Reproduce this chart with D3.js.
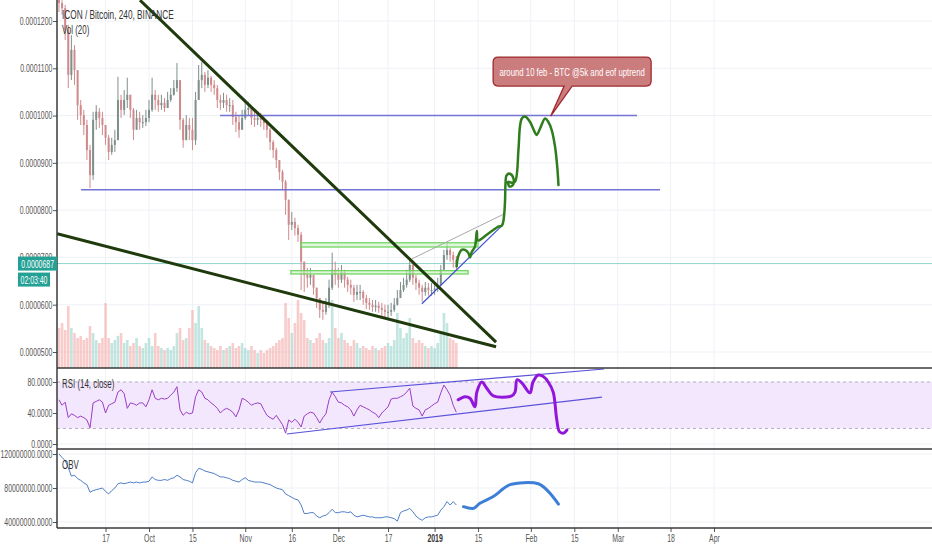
<!DOCTYPE html>
<html>
<head>
<meta charset="utf-8">
<script src="https://cdn.jsdelivr.net/npm/d3@7"></script>
<style>
body { margin: 0; background: #fff; }
svg { font-family: "Liberation Sans", Arial, sans-serif; }
</style>
</head>
<body>
<script>
// one candle per day starting 2018-09-02, prices in 1e-7 BTC
var close = [1238,1227,1181,1086,1139,1096,1022,1001,980,927,
  874,991,1008,995,980,953,923,938,948,1033,
  1012,1033,1044,1012,970,995,986,986,995,1012,
  1044,1033,1022,1027,1016,1033,1044,1058,1075,991,
  948,980,970,948,1033,1075,1086,1065,1080,1065,
  1058,1033,1027,1033,1022,1022,997,986,970,995,
  1012,1016,995,991,995,991,984,970,944,927,
  906,881,860,822,769,775,762,748,691,663,
  657,663,636,614,589,585,600,636,674,663,
  653,669,653,642,636,621,627,627,614,604,
  600,595,598,593,589,585,585,589,600,614,
  631,642,653,684,657,646,636,627,636,631,
  631,634,642,674,705,716,705,695,687];
var high = [1261,1244,1234,1192,1170,1149,1065,1033,1012,991,
  938,1008,1022,1016,1008,980,959,953,970,1082,
  1044,1054,1080,1044,1016,1012,1008,1001,1012,1033,
  1080,1054,1044,1044,1037,1050,1058,1075,1111,1075,
  995,1001,995,995,1050,1107,1113,1092,1096,1084,
  1075,1065,1044,1048,1044,1037,1033,1008,1001,1012,
  1029,1029,1016,1008,1008,1006,1001,991,974,948,
  932,906,885,864,811,796,784,769,754,684,
  678,678,657,636,614,604,614,653,710,691,
  678,684,674,659,653,642,642,642,631,621,
  614,610,610,606,604,600,600,604,614,631,
  648,657,674,695,691,663,653,642,648,646,
  646,648,657,684,716,731,720,712,703];
var low = [1219,1213,1160,1058,1075,1065,991,980,959,906,
  847,864,970,974,959,938,906,917,923,948,
  995,1001,1016,995,948,970,970,974,978,986,
  1008,1012,1008,1012,1008,1016,1029,1042,1050,970,
  932,953,948,927,938,1033,1058,1050,1058,1050,
  1044,1016,1012,1016,1008,1008,980,965,953,974,
  991,999,980,976,980,976,970,953,927,910,
  889,864,843,790,737,758,746,733,631,627,
  636,642,621,593,572,568,579,593,631,642,
  636,646,636,627,621,606,610,610,600,591,
  589,585,585,583,576,572,572,576,585,598,
  614,627,636,648,642,631,621,606,619,619,
  619,621,627,642,674,695,691,678,674];
var volume = [40,45,38,62,40,35,30,32,28,30,
  42,35,28,25,30,65,30,25,28,32,
  35,25,28,22,25,30,22,20,25,30,
  22,35,22,20,18,20,18,22,35,40,
  28,30,40,58,45,62,40,28,25,22,
  20,18,22,18,20,22,25,20,22,25,
  20,18,22,18,15,18,15,18,20,22,
  25,28,30,65,50,35,45,68,55,48,
  30,28,25,30,35,28,25,30,68,40,
  30,35,28,25,22,28,25,20,22,20,
  18,22,20,18,20,22,25,22,28,55,
  40,30,35,50,30,25,28,25,22,20,
  22,20,25,35,55,45,30,28,25];
var rsi = [57,50,54,34,39,37,34,36,34,31,
  21,53,55,57,54,40,50,52,54,67,
  70,65,46,53,52,50,53,53,48,57,
  70,59,57,59,58,59,63,67,74,44,
  37,41,39,40,61,70,67,59,57,53,
  50,46,40,44,46,44,41,35,44,59,
  57,54,50,52,53,52,44,37,34,32,
  37,31,25,14,31,28,32,28,22,36,
  39,41,40,34,27,34,39,57,67,61,
  54,53,50,48,44,36,44,50,48,46,
  44,41,39,34,40,44,48,58,59,59,
  61,63,67,72,49,46,44,36,44,46,
  49,52,54,66,76,70,63,50,41];
// OBV in millions
var obv = [120,116,112,104,94,95,91,89,86,84,
  75,77,78,79,80,76,73,77,80,85,
  86,85,86,87,86,87,86,87,87,88,
  93,90,89,89,90,89,91,92,95,93,
  90,89,88,86,98,103,102,100,99,98,
  97,95,93,93,92,91,89,88,87,90,
  92,89,88,87,87,87,86,85,84,82,
  80,79,78,73,71,69,67,66,60,50,
  50,51,51,47,45,47,48,51,55,51,
  51,52,52,51,52,48,46,47,48,47,
  46,46,45,45,45,46,46,45,44,41,
  51,53,54,56,52,47,44,42,45,46,
  46,47,48,54,58,64,60,64,60];

var tickDates = ["2018-09-17","2018-10-01","2018-10-15","2018-11-01","2018-11-16","2018-12-01",
  "2018-12-17","2019-01-01","2019-01-15","2019-02-01","2019-02-15","2019-03-01","2019-03-18","2019-04-01"];
var tickLabels = ["17","Oct","15","Nov","16","Dec","17","2019","15","Feb","15","Mar","18","Apr"];
var priceTicks = [500,600,700,800,900,1000,1100,1200];
var rsiTicks = [0,40,80];
var obvTicks = [40,80,120];

// hand drawings, time = days after 2019-01-01
var greenDays = [7.1,7.6,8.7,9.8,10.9,11.4,12.0,13.0,13.6,13.9,
  14.6,16.8,18.9,20.5,21.6,22.1,22.45,22.7,22.85,23.2,
  24.3,25.4,25.2,24.1,23.7,24.8,25.9,27.0,27.5,28.1,
  29.1,30.7,32.4,32.9,34.0,35.6,36.6,37.7,38.8,39.5,39.9];
var greenPrice = [681,702,716,716,709,700,712,723,756,736,
  737,748,758,765,767,775,793,822,857,874,
  877,867,853,850,860,858,860,927,977,994,
  998,987,963,959,973,994,987,970,934,892,853];
var rsiProjDays = [7.6,9.8,11.4,13.0,13.6,15.2,16.8,18.9,24.8,25.9,26.6,28.1,30.7,31.7,33.4,35.0,36.6,38.2,39.3,40.2,41.5,42.6];
var rsiProjVal = [57,61,59,48,67,80,72,62,62,67,83,79,66,80,89,87,80,67,33,16,14,18];
var obvProjDays = [9.3,12.5,14.6,18.9,22.1,24.3,33.4,36.6,39.9];
var obvProjVal = [58,56,62,70,79,84,85,76,61];

var wedgeTop = [[-94.9,1244],[19.8,521]];
var wedgeBottom = [[-121.6,750],[19.8,511]];
var levelPrice = [1000,843];
var levelFrom = [-69.1,-113.9];
var levelTo = [65.2,72.6];
var zoneTop = [731,672];
var zoneBottom = [722,665];
var zoneFrom = [-43.0,-46.3];
var zoneTo = [14.0,10.8];
var grayLine = [[-7.3,697],[22.4,792]];
var supportLine = [[-4.1,602],[22.1,770]];
var rsiLow = [[-47.6,12.9],[53.9,60.6]];
var rsiHigh = [[-33.7,67.1],[54.6,96.8]];
var lastPrice = 687;
var noteText = "around 10 feb - BTC @5k and eof uptrend";
var noteAnchor = [37.4,999];
var noteCenter = [44.3,1093];

var DAY = 864e5;
var start = Date.UTC(2018,8,2);
var base19 = Date.UTC(2019,0,1);
function dayDate(d) { return new Date(base19 + d * DAY); }

var W = 932, H = 550;
var left = 57, mainBottom = 368, rsiBottom = 449, obvBottom = 528;
var svg = d3.select("body").append("svg").attr("width", W).attr("height", H);

var x = d3.scaleUtc()
  .domain([new Date(Date.UTC(2018,9,1)), new Date(Date.UTC(2019,3,1))])
  .range([149, 714]);
var yPrice = d3.scaleLinear().domain([500,1200]).range([352,21]);
var yVol = d3.scaleLinear().domain([0,70]).range([mainBottom,298]);
var yRsi = d3.scaleLinear().domain([0,80]).range([444,382]);
var yObv = d3.scaleLinear().domain([40,120]).range([522,454]);

var candles = close.map(function(c, i) {
  var o = i === 0 ? 1250 : close[i-1];
  return {date: new Date(start + i * DAY), open: o, close: c,
    high: Math.max(high[i], o, c), low: Math.min(low[i], o, c), vol: volume[i], rsi: rsi[i], obv: obv[i]};
});

var defs = svg.append("defs");
function clip(id, y0, y1) {
  defs.append("clipPath").attr("id", id).append("rect")
    .attr("x", left).attr("y", y0).attr("width", W - left).attr("height", y1 - y0);
}
clip("cMain", 0, mainBottom);
clip("cRsi", mainBottom, rsiBottom);
clip("cObv", rsiBottom, obvBottom);

// grid
var grid = svg.append("g").attr("stroke", "#eef1f6").attr("stroke-width", 1);
tickDates.forEach(function(t) {
  var xx = x(new Date(t + "T00:00:00Z"));
  grid.append("line").attr("x1", xx).attr("x2", xx).attr("y1", 0).attr("y2", obvBottom);
});
priceTicks.forEach(function(v) {
  grid.append("line").attr("x1", left).attr("x2", W).attr("y1", yPrice(v)).attr("y2", yPrice(v));
});
rsiTicks.forEach(function(v) {
  grid.append("line").attr("x1", left).attr("x2", W).attr("y1", yRsi(v)).attr("y2", yRsi(v));
});
obvTicks.forEach(function(v) {
  grid.append("line").attr("x1", left).attr("x2", W).attr("y1", yObv(v)).attr("y2", yObv(v));
});

// ---- main pane
var main = svg.append("g").attr("clip-path", "url(#cMain)");

main.selectAll(".vol").data(candles).enter().append("rect")
  .attr("x", function(d) { return x(d.date) - 1.3; })
  .attr("width", 2.6)
  .attr("y", function(d) { return yVol(d.vol); })
  .attr("height", function(d) { return yVol(0) - yVol(d.vol); })
  .attr("fill", function(d) { return d.close >= d.open ? "#8fd0c7" : "#f2a3a0"; })
  .attr("opacity", 0.55);

// current price line
main.append("line").attr("x1", left).attr("x2", W)
  .attr("y1", yPrice(lastPrice)).attr("y2", yPrice(lastPrice))
  .attr("stroke", "#8fd6cc").attr("stroke-width", 1);

main.selectAll(".wick").data(candles).enter().append("line")
  .attr("x1", function(d) { return x(d.date); })
  .attr("x2", function(d) { return x(d.date); })
  .attr("y1", function(d) { return yPrice(d.high); })
  .attr("y2", function(d) { return yPrice(d.low); })
  .attr("stroke", function(d) { return d.close >= d.open ? "#7f8f8c" : "#d08a8c"; })
  .attr("stroke-width", 1);
main.selectAll(".body").data(candles).enter().append("rect")
  .attr("x", function(d) { return x(d.date) - 1; })
  .attr("width", 2)
  .attr("y", function(d) { return yPrice(Math.max(d.open, d.close)); })
  .attr("height", function(d) { return Math.max(1, Math.abs(yPrice(d.open) - yPrice(d.close))); })
  .attr("fill", function(d) { return d.close >= d.open ? "#7f8f8c" : "#d08a8c"; });

// zones
zoneTop.forEach(function(t, i) {
  main.append("rect")
    .attr("x", x(dayDate(zoneFrom[i])))
    .attr("width", x(dayDate(zoneTo[i])) - x(dayDate(zoneFrom[i])))
    .attr("y", yPrice(t))
    .attr("height", yPrice(zoneBottom[i]) - yPrice(t))
    .attr("fill", "#c8f0c0").attr("fill-opacity", 0.6)
    .attr("stroke", "#6ad35a").attr("stroke-width", 1.2);
});

// horizontal levels
levelPrice.forEach(function(p, i) {
  main.append("line")
    .attr("x1", x(dayDate(levelFrom[i]))).attr("x2", x(dayDate(levelTo[i])))
    .attr("y1", yPrice(p)).attr("y2", yPrice(p))
    .attr("stroke", "#7373d6").attr("stroke-width", 1.5);
});

var seg = d3.line().x(function(d) { return x(dayDate(d[0])); }).y(function(d) { return yPrice(d[1]); });
main.append("path").attr("d", seg(grayLine)).attr("fill", "none").attr("stroke", "#a8a8a8").attr("stroke-width", 1);
main.append("path").attr("d", seg(supportLine)).attr("fill", "none").attr("stroke", "#3f4fd0").attr("stroke-width", 1.2);
main.append("path").attr("d", seg(wedgeTop)).attr("fill", "none").attr("stroke", "#1f3a0c").attr("stroke-width", 3);
main.append("path").attr("d", seg(wedgeBottom)).attr("fill", "none").attr("stroke", "#1f3a0c").attr("stroke-width", 3);

var greenPts = greenDays.map(function(d, i) { return [d, greenPrice[i]]; });
main.append("path")
  .attr("d", seg.curve(d3.curveCatmullRom.alpha(0.5))(greenPts))
  .attr("fill", "none").attr("stroke", "#2f7d1c").attr("stroke-width", 2.5)
  .attr("stroke-linecap", "round").attr("stroke-linejoin", "round");
seg.curve(d3.curveLinear);

// callout
(function() {
  var cx = x(dayDate(noteCenter[0])), cy = yPrice(noteCenter[1]);
  var tx = x(dayDate(noteAnchor[0])), ty = yPrice(noteAnchor[1]);
  var w = 158, h = 29, r = 5;
  var L = cx - w / 2, R = cx + w / 2, T = cy - h / 2, B = cy + h / 2;
  var a = cx - 8, b = cx;
  var p = "M" + (L + r) + "," + T + "H" + (R - r) + "Q" + R + "," + T + " " + R + "," + (T + r) +
    "V" + (B - r) + "Q" + R + "," + B + " " + (R - r) + "," + B + "H" + b + "L" + tx + "," + ty +
    "L" + a + "," + B + "H" + (L + r) + "Q" + L + "," + B + " " + L + "," + (B - r) +
    "V" + (T + r) + "Q" + L + "," + T + " " + (L + r) + "," + T + "Z";
  svg.append("path").attr("d", p).attr("fill", "#c87677").attr("fill-opacity", 0.95)
    .attr("stroke", "#a02a2e").attr("stroke-width", 1.3);
  svg.append("text").attr("transform", "translate(" + cx + "," + (cy + 4) + ") scale(0.66,1)")
    .attr("text-anchor", "middle").attr("font-size", 11.8).attr("fill", "#fff").text(noteText);
})();

// ---- RSI pane
var rp = svg.append("g").attr("clip-path", "url(#cRsi)");
rp.append("rect").attr("x", left).attr("width", W - left)
  .attr("y", yRsi(80)).attr("height", yRsi(20) - yRsi(80)).attr("fill", "#f3e7fd");
[80, 20].forEach(function(v) {
  rp.append("line").attr("x1", left).attr("x2", W).attr("y1", yRsi(v)).attr("y2", yRsi(v))
    .attr("stroke", "#b8b0c0").attr("stroke-dasharray", "3,3").attr("stroke-width", 1);
});
rp.append("path").datum(candles)
  .attr("d", d3.line().x(function(d) { return x(d.date); }).y(function(d) { return yRsi(d.rsi); }))
  .attr("fill", "none").attr("stroke", "#9a3ec4").attr("stroke-width", 1);
var rseg = d3.line().x(function(d) { return x(dayDate(d[0])); }).y(function(d) { return yRsi(d[1]); });
rp.append("path").attr("d", rseg(rsiLow)).attr("fill", "none").attr("stroke", "#5a52d8").attr("stroke-width", 1.2);
rp.append("path").attr("d", rseg(rsiHigh)).attr("fill", "none").attr("stroke", "#5a52d8").attr("stroke-width", 1.2);
rp.append("path")
  .attr("d", rseg.curve(d3.curveCatmullRom.alpha(0.5))(rsiProjDays.map(function(d, i) { return [d, rsiProjVal[i]]; })))
  .attr("fill", "none").attr("stroke", "#9216d9").attr("stroke-width", 3)
  .attr("stroke-linecap", "round").attr("stroke-linejoin", "round");

// ---- OBV pane
var op = svg.append("g").attr("clip-path", "url(#cObv)");
op.append("path").datum(candles)
  .attr("d", d3.line().x(function(d) { return x(d.date); }).y(function(d) { return yObv(d.obv); }))
  .attr("fill", "none").attr("stroke", "#4f7ec6").attr("stroke-width", 1);
op.append("path")
  .attr("d", d3.line().curve(d3.curveCatmullRom.alpha(0.5))
    .x(function(d, i) { return x(dayDate(d)); })
    .y(function(d, i) { return yObv(obvProjVal[i]); })(obvProjDays))
  .attr("fill", "none").attr("stroke", "#3d7fd6").attr("stroke-width", 3)
  .attr("stroke-linecap", "round");

// ---- axes
function styleAxis(g) {
  g.select(".domain").remove();
  g.selectAll(".tick line").attr("stroke", "#555");
  g.selectAll("text").attr("fill", "#555").attr("font-size", 10.5)
    .attr("font-family", "'Liberation Sans', Arial, sans-serif")
    .attr("transform", "scale(0.66,1)");
}
svg.append("g").attr("transform", "translate(" + left + ",0)")
  .call(d3.axisLeft(yPrice).tickValues(priceTicks).tickSize(4)
    .tickFormat(function(v) { return (v * 1e-7).toFixed(7); }))
  .call(styleAxis);
svg.append("g").attr("transform", "translate(" + left + ",0)")
  .call(d3.axisLeft(yRsi).tickValues(rsiTicks).tickSize(4)
    .tickFormat(function(v) { return v.toFixed(4); }))
  .call(styleAxis);
svg.append("g").attr("transform", "translate(" + left + ",0)")
  .call(d3.axisLeft(yObv).tickValues(obvTicks).tickSize(4)
    .tickFormat(function(v) { return (v * 1e6).toFixed(4); }))
  .call(styleAxis);
var xa = svg.append("g").attr("transform", "translate(0," + obvBottom + ")")
  .call(d3.axisBottom(x).tickValues(tickDates.map(function(t) { return new Date(t + "T00:00:00Z"); }))
    .tickSize(4).tickFormat(function(d, i) { return tickLabels[i]; }))
  .call(styleAxis);
xa.selectAll("text").filter(function(d, i) { return tickLabels[i] === "2019"; })
  .attr("font-weight", "bold").attr("fill", "#333");

// pane borders
var bd = svg.append("g").attr("stroke", "#3a3a3a").attr("stroke-width", 1.5);
bd.append("line").attr("x1", left).attr("x2", left).attr("y1", 0).attr("y2", obvBottom);
[mainBottom, rsiBottom, obvBottom].forEach(function(yy) {
  bd.append("line").attr("x1", left).attr("x2", W).attr("y1", yy).attr("y2", yy);
});

// price / countdown boxes
var py = yPrice(lastPrice);
svg.append("rect").attr("x", 18).attr("y", py - 7).attr("width", left - 18).attr("height", 14).attr("fill", "#24a195");
svg.append("text").attr("transform", "translate(" + (left - 3) + "," + (py + 4) + ") scale(0.66,1)")
  .attr("text-anchor", "end").attr("font-size", 10.5).attr("fill", "#fff").text((lastPrice * 1e-7).toFixed(7));
svg.append("rect").attr("x", 18).attr("y", py + 9).attr("width", 32).attr("height", 14).attr("fill", "#24a195");
svg.append("text").attr("transform", "translate(34," + (py + 20) + ") scale(0.66,1)")
  .attr("text-anchor", "middle").attr("font-size", 10.5).attr("fill", "#fff").text("02:03:40");

// pane titles
function label(xx, yy, s, size) {
  svg.append("text").attr("transform", "translate(" + xx + "," + yy + ") scale(0.66,1)")
    .attr("font-size", size).attr("fill", "#333").text(s);
}
label(62, 19, "ICON / Bitcoin, 240, BINANCE", 12.5);
label(62, 34, "Vol (20)", 12);
label(62, 388, "RSI (14, close)", 12);
label(62, 469, "OBV", 12);
</script>
</body>
</html>
